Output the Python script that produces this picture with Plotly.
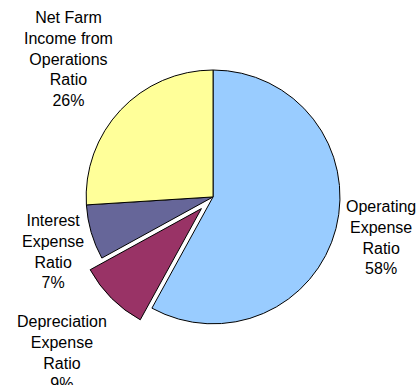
import plotly.graph_objects as go

labels = ["Operating<br>Expense<br>Ratio", "Depreciation<br>Expense<br>Ratio",
          "Interest<br>Expense<br>Ratio", "Net Farm<br>Income from<br>Operations<br>Ratio"]
values = [58, 9, 7, 26]
colors = ["#99CCFF", "#993366", "#666699", "#FFFF99"]
pulls = [0, 0.13, 0, 0]
# label centre positions (paper fractions)
label_x = [380.5 / 419, 62 / 419, 52.8 / 419, 68.3 / 419]
label_y = [1 - 237 / 385, 1 - 352 / 385, 1 - 251 / 385, 1 - 58.5 / 385]

total = sum(values)
fig = go.Figure(go.Pie(
    labels=labels,
    values=values,
    sort=False,
    direction="clockwise",
    rotation=0,
    pull=pulls,
    marker=dict(colors=colors, line=dict(color="black", width=1)),
    textinfo="none",
    domain=dict(x=[0.166, 0.851], y=[0.116, 0.861]),
    hoverinfo="none",
    showlegend=False,
))
for lab, v, x, y in zip(labels, values, label_x, label_y):
    fig.add_annotation(
        text=f"{lab}<br>{round(100 * v / total)}%",
        x=x, y=y, xref="paper", yref="paper",
        xanchor="center", yanchor="middle", showarrow=False,
        font=dict(family="Liberation Sans, Arial, sans-serif", size=16, color="black"),
    )
fig.update_layout(
    width=419, height=385,
    margin=dict(l=0, r=0, t=0, b=0),
    paper_bgcolor="white", plot_bgcolor="white",
    showlegend=False,
)
fig.write_html("out.html")
